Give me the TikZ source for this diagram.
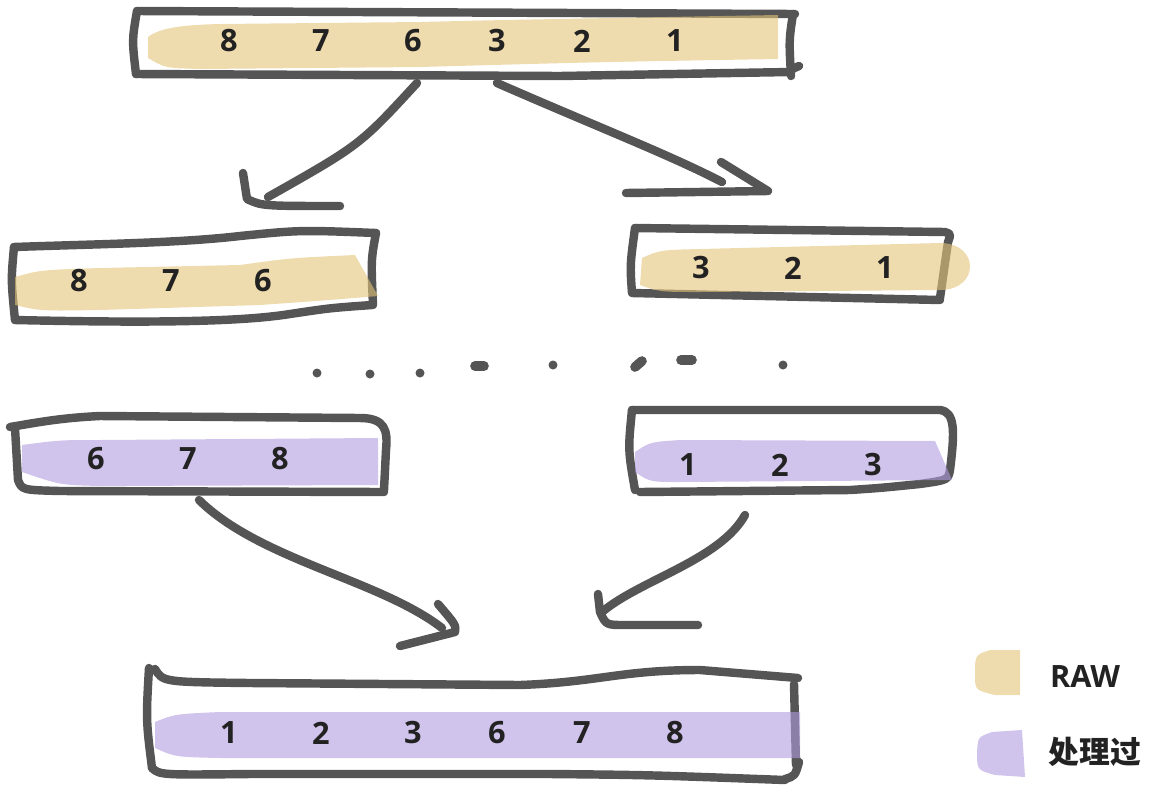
\documentclass[tikz,border=0pt]{standalone}
\usepackage{fontspec}
\setmainfont{Open Sans}
\newfontfamily\cjk{Noto Sans CJK SC}
\usetikzlibrary{arrows}

\definecolor{ink}{RGB}{85,85,85}
\definecolor{raw}{RGB}{227,195,120}
\definecolor{done}{RGB}{177,155,223}
\definecolor{txt}{RGB}{34,34,34}

\begin{document}
\begin{tikzpicture}[x=0.02cm,y=-0.02cm,
    pen/.style={draw=ink,line width=4.8pt,line cap=round,line join=round},
    rawmark/.style={fill=raw,fill opacity=0.6},
    donemark/.style={fill=done,fill opacity=0.6},
    num/.style={text=txt,font=\fontsize{17.5}{20}\selectfont\bfseries,inner sep=0pt},
    key/.style={text=txt,font=\fontsize{17.5}{20}\selectfont\bfseries,inner sep=0pt}]
    \useasboundingbox (0,0) rectangle (1153,792);

    % top: unsorted input
    \draw[pen] (137,11) -- (795,14);
    \draw[pen] (137,11) .. controls (132,40) .. (136,74);
    \draw[pen] (136,74) -- (560,76) -- (790,72);
    \draw[pen] (793,14) .. controls (789,40) .. (791,76);
    \draw[pen] (790,70) -- (799,66);
    \fill[rawmark] (148,37) .. controls (160,28) and (180,25) .. (220,24) -- (420,22) .. controls (500,20) .. (778,15)
        -- (778,59) .. controls (600,62) .. (420,67) -- (200,69) .. controls (165,68) .. (148,58) -- cycle;

    % split halves
    \draw[pen] (14,247) .. controls (100,244) and (180,243) .. (240,236) .. controls (300,230) .. (376,233);
    \draw[pen] (14,247) .. controls (11,280) .. (15,320);
    \draw[pen] (15,320) .. controls (150,323) and (240,322) .. (290,314) .. controls (330,308) .. (372,305);
    \draw[pen] (376,233) .. controls (371,260) .. (373,305);
    \fill[rawmark] (15,277) .. controls (40,270) .. (100,268) -- (240,265) .. controls (290,258) .. (355,255)
        -- (378,296) .. controls (330,300) .. (260,305) -- (100,310) .. controls (40,311) .. (15,305) -- cycle;

    \draw[pen] (635,228) -- (945,232) .. controls (951,234) .. (948,242) -- (940,298);
    \draw[pen] (635,228) .. controls (630,265) .. (632,293) -- (940,300);
    \fill[rawmark] (642,258) .. controls (660,250) .. (700,249) -- (940,243) .. controls (980,243) and (980,290) .. (940,290)
        -- (700,292) .. controls (660,292) .. (640,285) -- cycle;

    % dots
    \fill[ink] (317,373) circle (4.5);
    \fill[ink] (370,374) circle (4.5);
    \fill[ink] (420,373) circle (4.5);
    \draw[ink,line width=5.5pt,line cap=round] (475,366) -- (484,366);
    \fill[ink] (553,365) circle (4.5);
    \draw[ink,line width=5.5pt,line cap=round] (635,367) -- (642,361);
    \draw[ink,line width=5.5pt,line cap=round] (681,360) -- (692,360);
    \fill[ink] (783,365) circle (4.5);

    % sorted halves
    \draw[pen] (10,427) .. controls (40,422) and (60,418) .. (100,416) -- (360,418) .. controls (385,418) and (388,430) .. (386,450) -- (384,490);
    \draw[pen] (15,428) -- (18,480) .. controls (22,490) .. (60,491) -- (384,492);
    \fill[donemark] (22,445) .. controls (60,440) .. (100,440) -- (378,438) -- (378,485) -- (100,486)
        .. controls (60,485) .. (22,472) -- cycle;

    \draw[pen] (632,410) -- (940,410) .. controls (955,412) and (955,430) .. (950,470) .. controls (948,480) .. (920,484)
        .. controls (880,488) .. (850,490) -- (640,492);
    \draw[pen] (632,410) .. controls (628,450) .. (635,490);
    \fill[donemark] (635,452) .. controls (650,442) .. (680,440) -- (935,441) -- (952,480) -- (680,482)
        .. controls (650,482) .. (635,472) -- cycle;

    % merged
    \draw[pen] (155,669) .. controls (163,682) .. (250,683) -- (520,685) .. controls (600,682) and (620,670) .. (700,670) -- (798,678);
    \draw[pen] (149,668) .. controls (146,720) .. (152,768);
    \draw[pen] (152,768) .. controls (160,775) .. (250,774) -- (550,774) .. controls (650,775) .. (785,780);
    \draw[pen] (794,684) -- (796,765);
    \draw[pen] (785,779) .. controls (795,776) .. (799,762);
    \fill[donemark] (155,722) .. controls (175,714) .. (220,712) -- (800,712) -- (800,758) -- (220,758)
        .. controls (175,757) .. (155,748) -- cycle;

    % arrows
    \coordinate (s1) at (417,83);
    \coordinate (e1) at (268,197);
    \coordinate (s2) at (497,83);
    \coordinate (e2) at (722,182);
    \coordinate (s3) at (199,500);
    \coordinate (e3) at (442,628);
    \coordinate (s4) at (745,515);
    \coordinate (e4) at (602,612);
    \draw[pen] (s1) .. controls (360,145) .. (e1);
    \draw[pen] (243,173) -- (247,199) .. controls (262,206) .. (340,206);
    \draw[pen] (s2) .. controls (600,128) and (670,155) .. (e2);
    \draw[pen] (721,162) -- (768,191) -- (626,193);
    \draw[pen] (s3) .. controls (260,560) and (380,580) .. (e3);
    \draw[pen] (438,604) .. controls (456,625) .. (455,632) -- (400,646);
    \draw[pen] (s4) .. controls (720,560) and (640,580) .. (e4);
    \draw[pen] (598,594) -- (600,612) .. controls (606,625) .. (625,625) -- (698,625);

    % legend
    \fill[rawmark] (990,650) -- (1020,650) -- (1020,695) -- (995,695) .. controls (975,690) .. (975,675)
        .. controls (975,655) .. (990,650) -- cycle;
    \fill[donemark] (992,732) -- (1022,730) -- (1025,777) -- (995,775) .. controls (977,770) .. (977,752)
        .. controls (978,737) .. (992,732) -- cycle;
    \node[key] (kraw) at (1085,676) {RAW};
    \node[key] (kdone) at (1095,752) {\cjk 处理过};

    % numbers
    \node[num] (a8) at (229,41) {8};
    \node[num] (a7) at (321,41) {7};
    \node[num] (a6) at (413,41) {6};
    \node[num] (a3) at (497,41) {3};
    \node[num] (a2) at (582,41) {2};
    \node[num] (a1) at (675,41) {1};
    \node[num] (b8) at (79,281) {8};
    \node[num] (b7) at (171,281) {7};
    \node[num] (b6) at (263,281) {6};
    \node[num] (c3) at (701,268) {3};
    \node[num] (c2) at (793,268) {2};
    \node[num] (c1) at (885,268) {1};
    \node[num] (d6) at (96,459) {6};
    \node[num] (d7) at (188,459) {7};
    \node[num] (d8) at (280,459) {8};
    \node[num] (e1) at (688,465) {1};
    \node[num] (e2) at (780,465) {2};
    \node[num] (e3) at (873,465) {3};
    \node[num] (f1) at (229,733) {1};
    \node[num] (f2) at (321,733) {2};
    \node[num] (f3) at (413,733) {3};
    \node[num] (f6) at (497,733) {6};
    \node[num] (f7) at (582,733) {7};
    \node[num] (f8) at (675,733) {8};
\end{tikzpicture}
\end{document}
